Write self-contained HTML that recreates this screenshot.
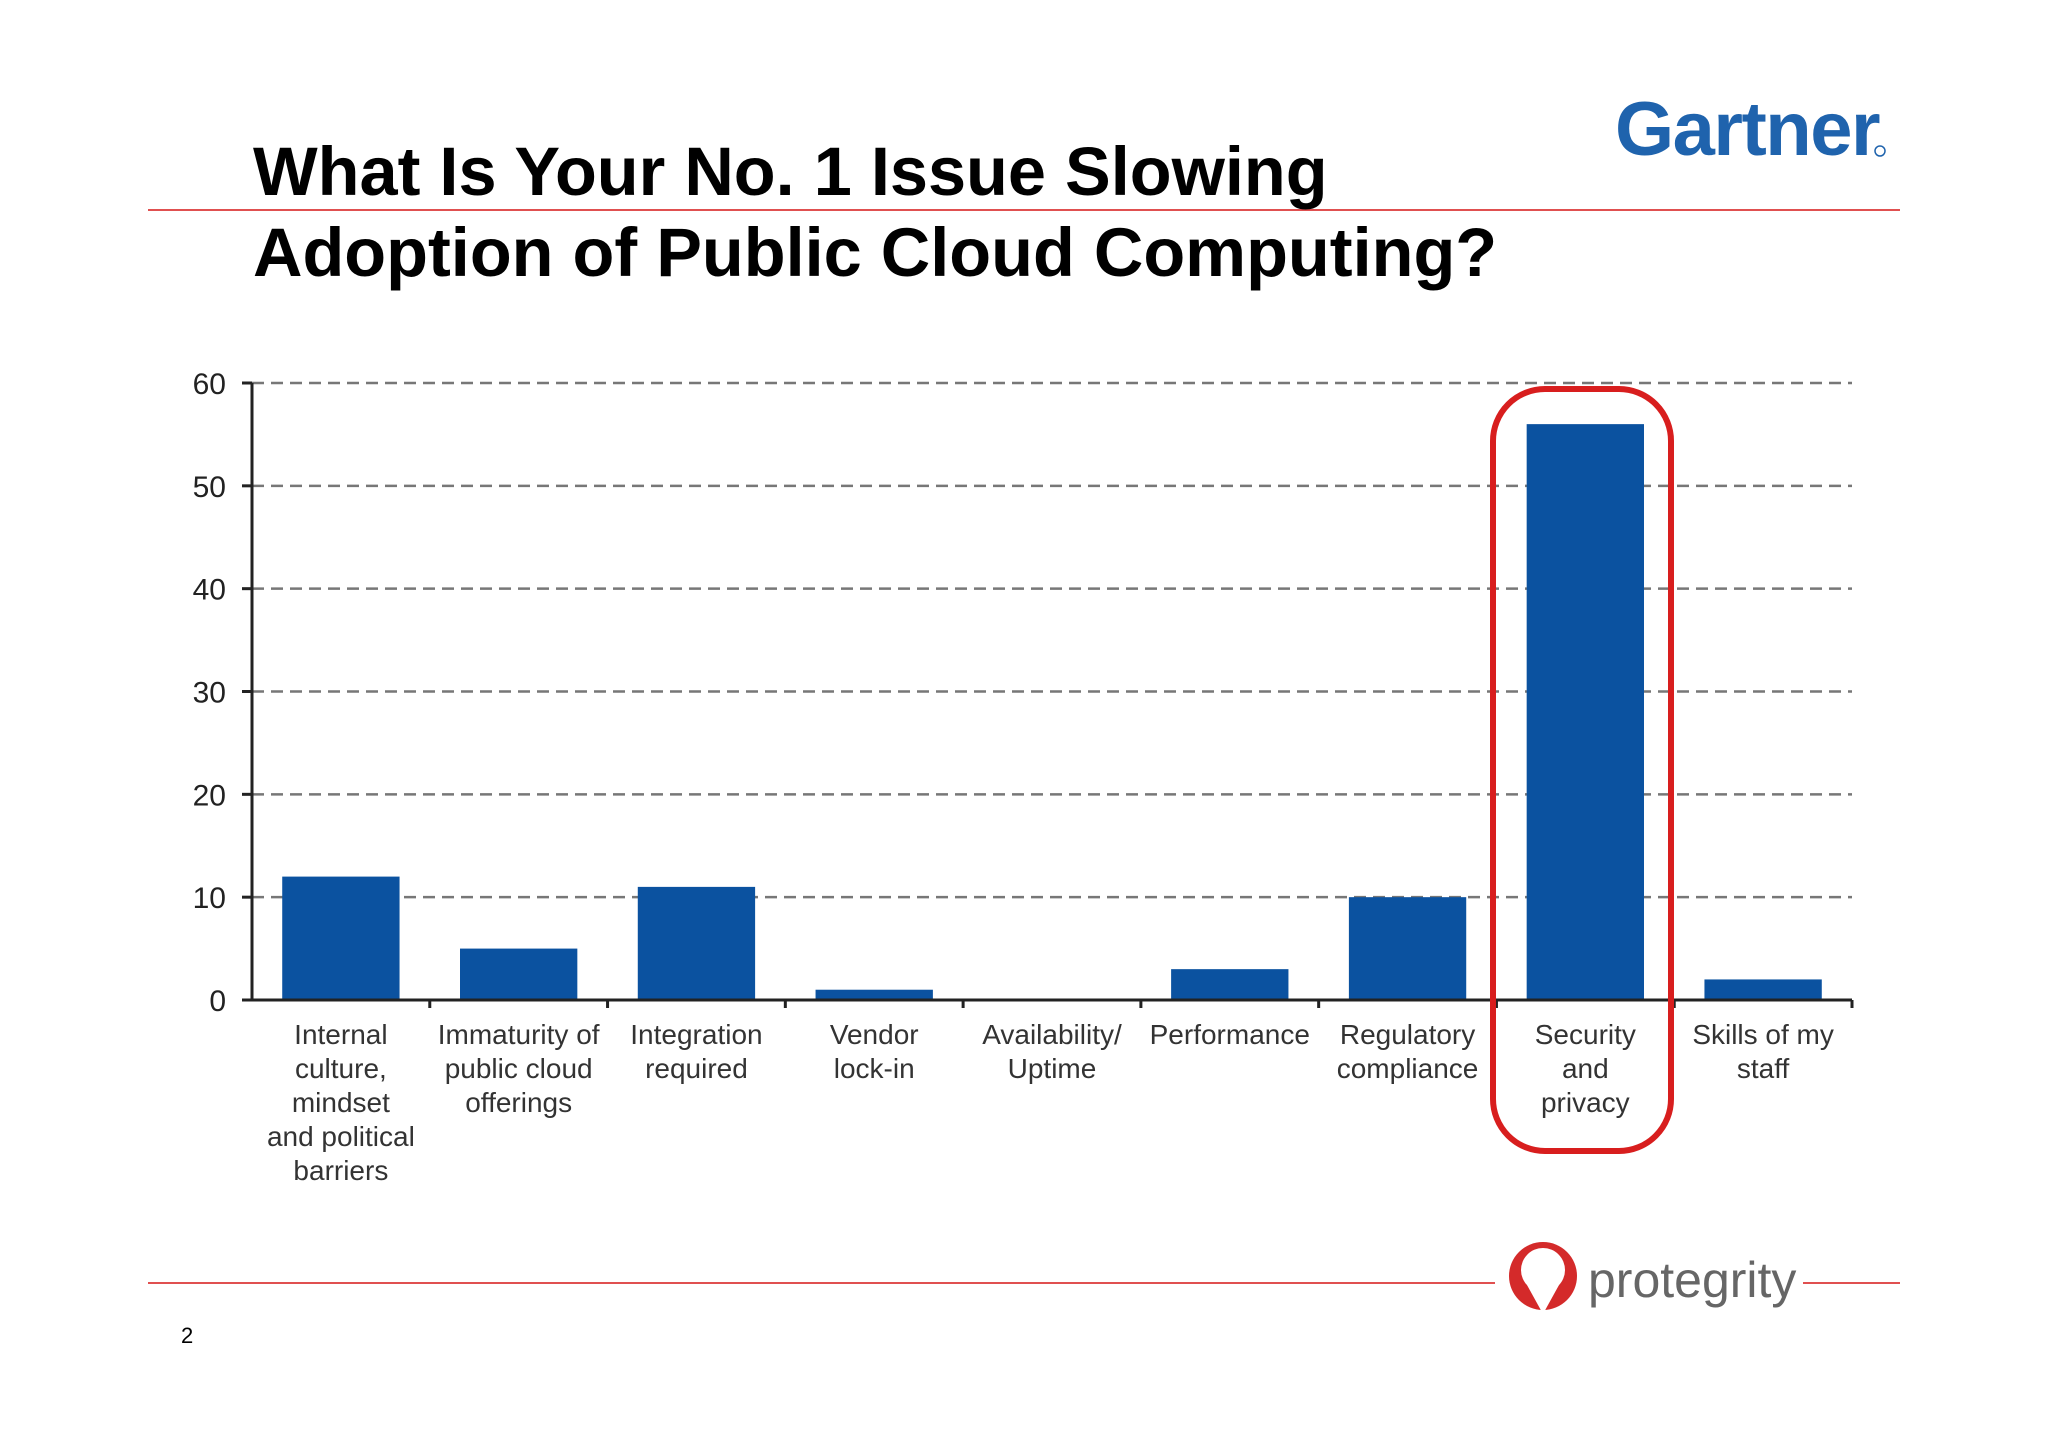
<!DOCTYPE html>
<html><head><meta charset="utf-8"><style>
body{margin:0;background:#fff;font-family:"Liberation Sans",sans-serif}
svg{display:block}
</style></head><body>
<svg width="2048" height="1447" viewBox="0 0 2048 1447">
<text x="1615" y="155" font-size="76" font-weight="bold" fill="#1f63ad" letter-spacing="-1.5">Gartner</text>
<circle cx="1880" cy="151" r="5" fill="none" stroke="#1f63ad" stroke-width="1.5"/>
<line x1="148" y1="210" x2="1900" y2="210" stroke="#e05050" stroke-width="2"/>
<text x="253" y="195" font-size="68.5" font-weight="bold" fill="#000">What Is Your No. 1 Issue Slowing</text>
<text x="253" y="276" font-size="68.5" font-weight="bold" fill="#000">Adoption of Public Cloud Computing?</text>
<g id="chart"></g>
<line x1="148" y1="1283" x2="1900" y2="1283" stroke="#e05050" stroke-width="2"/>
<g>
<rect x="1495" y="1240" width="308" height="80" fill="#fff"/>
<circle cx="1543" cy="1276" r="34" fill="#d42a2a"/>
<circle cx="1543" cy="1270" r="22" fill="#fff"/>
<path d="M1527,1285 L1559,1285 L1543,1314 Z" fill="#fff"/>
<text x="1588" y="1297" font-size="50" fill="#666">protegrity</text>
</g>
<text x="181" y="1343" font-size="22" fill="#000">2</text>
</svg>
<script>
const categories=[["Internal","culture,","mindset","and political","barriers"],["Immaturity of","public cloud","offerings"],["Integration","required"],["Vendor","lock-in"],["Availability/","Uptime"],["Performance"],["Regulatory","compliance"],["Security","and","privacy"],["Skills of my","staff"]];
const values=[12,5,11,1,0,3,10,56,2];
const ticks=[0,10,20,30,40,50,60];
const NS="http://www.w3.org/2000/svg";
const g=document.getElementById('chart');
const x0=252,x1=1852,y0=1000,yTop=383,vmax=60;
const bw=(x1-x0)/categories.length;
const y=v=>y0-(v/vmax)*(y0-yTop);
const xc=i=>x0+bw*(i+0.5);
function mk(tag,attrs,parent){const e=document.createElementNS(NS,tag);for(const k in attrs)e.setAttribute(k,attrs[k]);(parent||g).appendChild(e);return e;}
ticks.forEach(t=>{
 if(t>0){const l=mk('line',{x1:x0,y1:y(t),x2:x1,y2:y(t),stroke:'#777','stroke-width':2.5,'stroke-dasharray':'12 7'});
 
 }
 const tk=mk('line',{x1:x0-10,y1:y(t),x2:x0,y2:y(t),stroke:'#222','stroke-width':3});
 
 
 const tx=mk('text',{x:226,y:y(t)+11,'font-size':30,'text-anchor':'end',fill:'#222'});
 tx.textContent=t;
 
 
});
values.forEach((v,i)=>{
 const w=bw*0.66;
 const r=mk('rect',{x:xc(i)-w/2,y:y(v),width:w,height:y0-y(v),fill:'#0b52a0'});
 
 
 const tk=mk('line',{x1:x0+bw*(i+1),y1:y0,x2:x0+bw*(i+1),y2:y0+8,stroke:'#222','stroke-width':3});
 
 
 categories[i].forEach((s,j)=>{
  const t=mk('text',{x:xc(i),y:1044+j*34,'font-size':28,'text-anchor':'middle',fill:'#333'});
  t.textContent=s;
  
  
 });
});
const ax=mk('path',{d:`M${x0},${yTop} L${x0},${y0} L${x1},${y0}`,fill:'none',stroke:'#222','stroke-width':3});


const hl=mk('rect',{x:1493,y:389,width:178,height:762,rx:52,fill:'none',stroke:'#d81e1e','stroke-width':6});


</script>
</body></html>
